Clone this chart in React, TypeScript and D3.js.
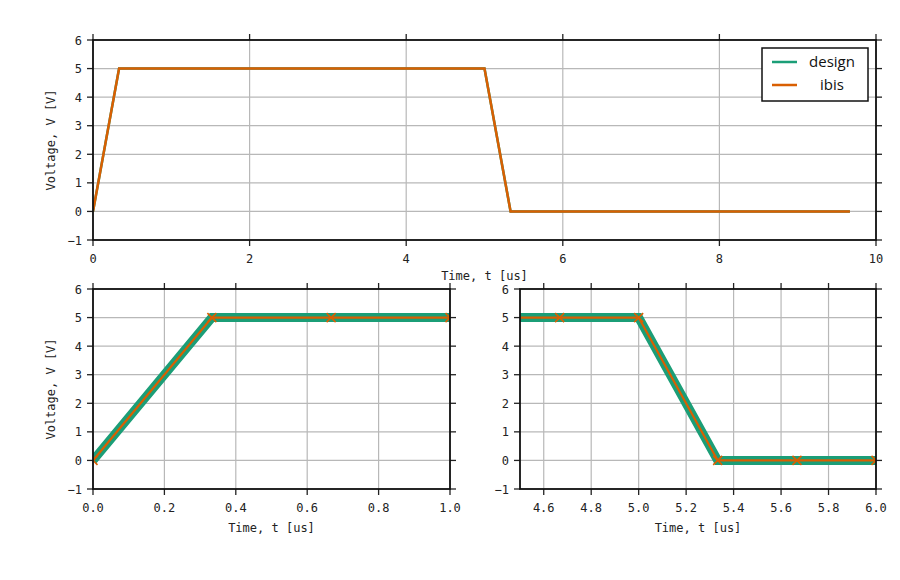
import React, { useEffect, useRef } from "react";
import * as d3 from "d3";

// design waveform breakpoints (us, V)
const designTime = [0, 0.333, 5.0, 5.333, 9.667];
const designVolt = [0, 5, 5, 0, 0];

// ibis waveform samples (us, V)
const ibisTime = [
  0, 0.333, 0.667, 1.0, 1.333, 1.667, 2.0, 2.333, 2.667, 3.0,
  3.333, 3.667, 4.0, 4.333, 4.667, 5.0, 5.333, 5.667, 6.0, 6.333,
  6.667, 7.0, 7.333, 7.667, 8.0, 8.333, 8.667, 9.0, 9.333, 9.667,
];
const ibisVolt = [
  0, 5, 5, 5, 5, 5, 5, 5, 5, 5,
  5, 5, 5, 5, 5, 5, 0, 0, 0, 0,
  0, 0, 0, 0, 0, 0, 0, 0, 0, 0,
];

const yTicks = [-1, 0, 1, 2, 3, 4, 5, 6];
const topXTicks = [0, 2, 4, 6, 8, 10];
const leftXTicks = [0, 0.2, 0.4, 0.6, 0.8, 1.0];
const rightXTicks = [4.6, 4.8, 5.0, 5.2, 5.4, 5.6, 5.8, 6.0];

const seriesNames = ["design", "ibis"];
const GREEN = "#1b9e77";
const ORANGE = "#d95f02";
const MONO = "'DejaVu Sans Mono', monospace";

type Pt = { t: number; v: number };

const zip = (ts: number[], vs: number[]): Pt[] => ts.map((t, i) => ({ t, v: vs[i] }));

const App: React.FC = () => {
  const svgRef = useRef<SVGSVGElement>(null);

  useEffect(() => {
    if (!svgRef.current) return;
    const svg = d3.select(svgRef.current);
    svg.selectAll("*").remove();

    svg.append("rect").attr("width", 900).attr("height", 580).attr("fill", "#fff");

    const design = zip(designTime, designVolt);
    const ibis = zip(ibisTime, ibisVolt);

    const drawPanel = (
      id: string,
      xDomain: [number, number],
      xRange: [number, number],
      yRange: [number, number],
      xTicks: number[],
      xFmt: (d: number) => string,
      showYLabel: boolean,
      zoomed: boolean,
      xLabelGap: number
    ) => {
      const x = d3.scaleLinear().domain(xDomain).range(xRange);
      const y = d3.scaleLinear().domain([-1, 6]).range(yRange);
      const g = svg.append("g");

      g.append("clipPath")
        .attr("id", id)
        .append("rect")
        .attr("x", xRange[0])
        .attr("y", yRange[1])
        .attr("width", xRange[1] - xRange[0])
        .attr("height", yRange[0] - yRange[1]);

      // grid
      g.selectAll(".gx")
        .data(xTicks)
        .enter()
        .append("line")
        .attr("x1", d => x(d))
        .attr("x2", d => x(d))
        .attr("y1", yRange[1])
        .attr("y2", yRange[0])
        .attr("stroke", "#b8b8b8")
        .attr("stroke-width", 1.2);
      g.selectAll(".gy")
        .data(yTicks)
        .enter()
        .append("line")
        .attr("x1", xRange[0])
        .attr("x2", xRange[1])
        .attr("y1", d => y(d))
        .attr("y2", d => y(d))
        .attr("stroke", "#b8b8b8")
        .attr("stroke-width", 1.2);

      const line = d3.line<Pt>().x(d => x(d.t)).y(d => y(d.v));
      const plot = g.append("g").attr("clip-path", `url(#${id})`);

      plot.append("path")
        .datum(design)
        .attr("fill", "none")
        .attr("stroke", GREEN)
        .attr("stroke-width", zoomed ? 9 : 2.5)
        .attr("stroke-linejoin", "miter")
        .attr("d", line);
      plot.append("path")
        .datum(ibis)
        .attr("fill", "none")
        .attr("stroke", ORANGE)
        .attr("stroke-width", zoomed ? 2.2 : 2.5)
        .attr("d", line);

      if (zoomed) {
        const s = 4.5;
        plot.selectAll(".mk")
          .data(ibis)
          .enter()
          .append("path")
          .attr("d", d => {
            const cx = x(d.t), cy = y(d.v);
            return `M${cx - s},${cy - s}L${cx + s},${cy + s}M${cx - s},${cy + s}L${cx + s},${cy - s}`;
          })
          .attr("stroke", ORANGE)
          .attr("stroke-width", 1.6)
          .attr("fill", "none");
      }

      // ticks on all four sides, pointing outward
      const tk = 6;
      const tickColor = "#222";
      xTicks.forEach(d => {
        g.append("line").attr("x1", x(d)).attr("x2", x(d))
          .attr("y1", yRange[0]).attr("y2", yRange[0] + tk)
          .attr("stroke", tickColor).attr("stroke-width", 1.3);
        g.append("line").attr("x1", x(d)).attr("x2", x(d))
          .attr("y1", yRange[1]).attr("y2", yRange[1] - tk)
          .attr("stroke", tickColor).attr("stroke-width", 1.3);
      });
      yTicks.forEach(d => {
        g.append("line").attr("x1", xRange[0] - tk).attr("x2", xRange[0])
          .attr("y1", y(d)).attr("y2", y(d))
          .attr("stroke", tickColor).attr("stroke-width", 1.3);
        g.append("line").attr("x1", xRange[1]).attr("x2", xRange[1] + tk)
          .attr("y1", y(d)).attr("y2", y(d))
          .attr("stroke", tickColor).attr("stroke-width", 1.3);
      });

      // spines
      g.append("rect")
        .attr("x", xRange[0])
        .attr("y", yRange[1])
        .attr("width", xRange[1] - xRange[0])
        .attr("height", yRange[0] - yRange[1])
        .attr("fill", "none")
        .attr("stroke", "#111")
        .attr("stroke-width", 1.8);

      // tick labels
      g.selectAll(".xl")
        .data(xTicks)
        .enter()
        .append("text")
        .attr("x", d => x(d))
        .attr("y", yRange[0] + 23)
        .attr("text-anchor", "middle")
        .attr("font-family", MONO)
        .attr("font-size", 12)
        .attr("fill", "#222")
        .text(d => xFmt(d));
      g.selectAll(".yl")
        .data(yTicks)
        .enter()
        .append("text")
        .attr("x", xRange[0] - 11)
        .attr("y", d => y(d) + 4.5)
        .attr("text-anchor", "end")
        .attr("font-family", MONO)
        .attr("font-size", 12)
        .attr("fill", "#222")
        .text(d => (d < 0 ? `\u2212${Math.abs(d)}` : `${d}`));

      // axis labels
      g.append("text")
        .attr("x", (xRange[0] + xRange[1]) / 2)
        .attr("y", yRange[0] + xLabelGap)
        .attr("text-anchor", "middle")
        .attr("font-family", MONO)
        .attr("font-size", 12)
        .attr("fill", "#222")
        .text("Time, t [us]");
      if (showYLabel) {
        const cy = (yRange[0] + yRange[1]) / 2;
        g.append("text")
          .attr("transform", `translate(55,${cy}) rotate(-90)`)
          .attr("text-anchor", "middle")
          .attr("font-family", MONO)
          .attr("font-size", 12)
          .attr("fill", "#222")
          .text("Voltage, V [V]");
      }
    };

    const fmt1 = d3.format(".1f");
    drawPanel("clipTop", [0, 10], [93, 876], [240, 40], topXTicks, d => `${d}`, true, false, 40);
    drawPanel("clipLeft", [0, 1], [93, 450], [489, 289], leftXTicks, fmt1, true, true, 43);
    drawPanel("clipRight", [4.5, 6], [520, 876], [489, 289], rightXTicks, fmt1, false, true, 43);

    // legend
    const lg = svg.append("g");
    lg.append("rect")
      .attr("x", 762)
      .attr("y", 48)
      .attr("width", 106)
      .attr("height", 53)
      .attr("fill", "#fff")
      .attr("stroke", "#111")
      .attr("stroke-width", 1.5);
    const colors = [GREEN, ORANGE];
    seriesNames.forEach((name, i) => {
      const cy = 62 + i * 23;
      lg.append("line")
        .attr("x1", 772).attr("x2", 797)
        .attr("y1", cy).attr("y2", cy)
        .attr("stroke", colors[i])
        .attr("stroke-width", 2.5);
      lg.append("text")
        .attr("x", 832)
        .attr("y", cy + 5)
        .attr("text-anchor", "middle")
        .attr("font-family", "'Open Sans', sans-serif")
        .attr("font-size", 15)
        .attr("fill", "#111")
        .text(name);
    });
  }, []);

  return (
    <svg
      ref={svgRef}
      width={900}
      height={580}
      style={{ position: "absolute", left: 0, top: 0, display: "block" }}
    />
  );
};

export default App;
